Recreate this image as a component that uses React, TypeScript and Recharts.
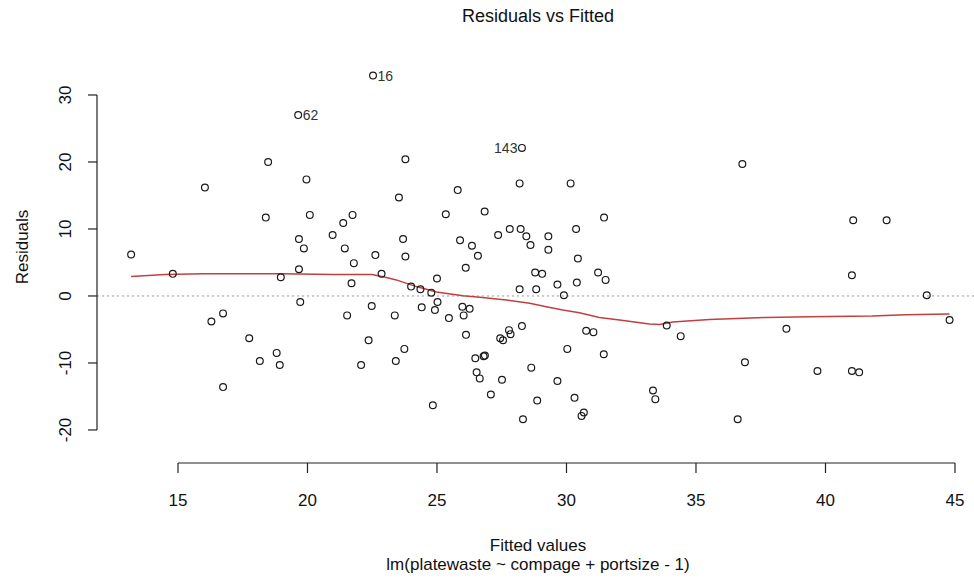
import React from 'react';
import { ComposedChart, XAxis, YAxis, Scatter, Line, ReferenceLine, Customized } from 'recharts';

const fittedValues = [
  13.19, 14.8, 16.04, 16.29, 16.74, 16.74, 17.75, 18.16, 18.39, 18.48, 18.81, 18.93, 18.97,
  19.67, 19.67, 19.72, 19.86, 19.96, 20.09, 20.97, 21.38, 21.44, 21.53, 21.7, 21.74, 21.79,
  22.07, 22.36, 22.48, 22.62, 22.86, 23.37, 23.41, 23.53, 23.69, 23.74, 23.78, 23.78, 24.0,
  24.36, 24.41, 24.78, 24.84, 24.92, 25.0, 25.02, 25.34, 25.46, 25.8, 25.89, 25.98, 26.03,
  26.11, 26.12, 26.26, 26.35, 26.48, 26.53, 26.58, 26.65, 26.8, 26.85, 26.84, 27.08, 27.36,
  27.44, 27.51, 27.55, 27.78, 27.81, 27.84, 28.19, 28.19, 28.23, 28.28, 28.32, 28.45, 28.61,
  28.64, 28.79, 28.83, 28.87, 29.06, 29.3, 29.3, 29.65, 29.65, 29.9, 30.03, 30.16, 30.31,
  30.37, 30.4, 30.44, 30.58, 30.67, 30.76, 31.04, 31.22, 31.44, 31.45, 31.51, 33.34, 33.43,
  33.87, 34.41, 36.61, 36.79, 36.89, 38.49, 39.69, 41.02, 41.02, 41.07, 41.3, 42.36, 43.91,
  44.79,
];
const residuals = [
  6.2, 3.3, 16.2, -3.8, -2.6, -13.6, -6.3, -9.7, 11.7, 20.0, -8.5, -10.3, 2.8,
  8.5, 4.0, -0.9, 7.1, 17.4, 12.1, 9.1, 10.9, 7.1, -2.9, 1.9, 12.1, 4.9,
  -10.3, -6.6, -1.5, 6.1, 3.3, -2.9, -9.7, 14.7, 8.5, -7.9, 20.4, 5.9, 1.4,
  1.0, -1.7, 0.5, -16.3, -2.1, 2.6, -0.9, 12.2, -3.3, 15.8, 8.3, -1.6, -2.9,
  4.2, -5.8, -1.9, 7.5, -9.3, -11.4, 6.0, -12.3, -9.0, -8.9, 12.6, -14.7, 9.1,
  -6.3, -12.5, -6.6, -5.1, 10.0, -5.7, 16.8, 1.0, 10.0, -4.5, -18.4, 8.9, 7.6,
  -10.7, 3.5, 1.0, -15.6, 3.3, 8.9, 6.9, 1.7, -12.7, 0.1, -7.9, 16.8, -15.2,
  10.0, 2.0, 5.6, -17.9, -17.4, -5.2, -5.4, 3.5, -8.7, 11.7, 2.4, -14.1, -15.4,
  -4.4, -6.0, -18.4, 19.7, -9.9, -4.9, -11.2, 3.1, -11.2, 11.3, -11.4, 11.3, 0.1,
  -3.6,
];

const labeledIds = ['16', '62', '143'];
const labeledFitted = [22.53, 19.64, 28.28];
const labeledResiduals = [32.9, 27.0, 22.1];
const labeledSides = ['right', 'right', 'left'];

const smoothX = [13.19, 14.5, 16.0, 19.0, 21.0, 22.5, 23.0, 23.43, 24.2, 24.98, 26.0, 26.65, 27.68, 28.58, 29.22, 29.86, 30.5, 31.27, 32.05, 33.2, 33.6, 34.1, 35.52, 37.7, 39.37, 41.8, 43.1, 44.79];
const smoothY = [2.9, 3.2, 3.3, 3.3, 3.2, 3.2, 2.8, 2.4, 1.4, 0.6, 0.05, -0.2, -0.6, -1.1, -1.6, -2.1, -2.5, -3.2, -3.6, -4.2, -4.25, -3.9, -3.5, -3.2, -3.1, -3.0, -2.8, -2.7];

const xTicks = [15, 20, 25, 30, 35, 40, 45];
const yTicks = [-20, -10, 0, 10, 20, 30];

const X_DOMAIN: [number, number] = [11.873, 45.734];
const Y_DOMAIN: [number, number] = [-24.93, 39.55];

const FONT = '"Liberation Sans", Arial, Helvetica, sans-serif';

const points = fittedValues.map((x, i) => ({ x, y: residuals[i] }));
const labeledPoints = labeledFitted.map((x, i) => ({ x, y: labeledResiduals[i], id: labeledIds[i], side: labeledSides[i] }));
const smoothData = smoothX.map((x, i) => ({ x, y: smoothY[i] }));

const OpenCircle = (props: any) => {
  const { cx, cy } = props;
  if (cx == null || cy == null) return null;
  return <circle cx={cx} cy={cy} r={3.4} fill="none" stroke="#1a1a1a" strokeWidth={1.2} />;
};

const LabeledCircle = (props: any) => {
  const { cx, cy, payload } = props;
  if (cx == null || cy == null) return null;
  const right = payload.side === 'right';
  return (
    <g>
      <circle cx={cx} cy={cy} r={3.4} fill="none" stroke="#1a1a1a" strokeWidth={1.2} />
      <text
        x={right ? cx + 4.5 : cx - 4.5}
        y={cy}
        dominantBaseline="central"
        textAnchor={right ? 'start' : 'end'}
        fontFamily={FONT}
        fontSize={14}
        fill="#333"
      >
        {payload.id}
      </text>
    </g>
  );
};

const XTick = (props: any) => {
  const { x, y, payload } = props;
  return (
    <text x={x} y={y + 25} textAnchor="middle" dominantBaseline="central" fontFamily={FONT} fontSize={17} fill="#111">
      {payload.value}
    </text>
  );
};

const YTick = (props: any) => {
  const { x, y, payload } = props;
  const bx = x - 15;
  return (
    <text x={bx} y={y} textAnchor="middle" transform={`rotate(-90, ${bx}, ${y})`} fontFamily={FONT} fontSize={17} fill="#111">
      {payload.value}
    </text>
  );
};

const Titles = () => (
  <g fontFamily={FONT} fill="#111">
    <text x={538} y={16} textAnchor="middle" dominantBaseline="central" fontSize={18}>Residuals vs Fitted</text>
    <text x={538} y={545} textAnchor="middle" dominantBaseline="central" fontSize={17}>Fitted values</text>
    <text x={538} y={564} textAnchor="middle" dominantBaseline="central" fontSize={17}>lm(platewaste ~ compage + portsize - 1)</text>
    <text x={22} y={247} textAnchor="middle" dominantBaseline="central" fontSize={17} transform="rotate(-90, 22, 247)">Residuals</text>
  </g>
);

export default function App() {
  return (
    <div style={{ position: 'absolute', left: 0, top: 0, width: 974, height: 583, background: '#fff' }}>
      <ComposedChart width={974} height={583} margin={{ top: 31, right: 0, bottom: 0, left: 0 }}>
        <XAxis
          type="number"
          dataKey="x"
          domain={X_DOMAIN}
          ticks={xTicks}
          interval={0}
          allowDataOverflow
          axisLine={false}
          tickLine={{ stroke: '#222', strokeWidth: 1.2 }}
          tickSize={10}
          height={120}
          tick={XTick}
        />
        <YAxis
          type="number"
          dataKey="y"
          domain={Y_DOMAIN}
          ticks={yTicks}
          interval={0}
          allowDataOverflow
          axisLine={false}
          tickLine={{ stroke: '#222', strokeWidth: 1.2 }}
          tickSize={9}
          width={97}
          tick={YTick}
        />
        <ReferenceLine y={0} stroke="#9a9a9a" strokeDasharray="2 3" strokeWidth={1} ifOverflow="visible" />
        <ReferenceLine
          segment={[{ x: xTicks[0], y: Y_DOMAIN[0] }, { x: xTicks[xTicks.length - 1], y: Y_DOMAIN[0] }]}
          stroke="#222"
          strokeWidth={1.2}
          ifOverflow="visible"
        />
        <ReferenceLine
          segment={[{ x: X_DOMAIN[0], y: yTicks[0] }, { x: X_DOMAIN[0], y: yTicks[yTicks.length - 1] }]}
          stroke="#222"
          strokeWidth={1.2}
          ifOverflow="visible"
        />
        <Scatter data={points} dataKey="y" shape={OpenCircle} isAnimationActive={false} />
        <Scatter data={labeledPoints} dataKey="y" shape={LabeledCircle} isAnimationActive={false} />
        <Line data={smoothData} dataKey="y" type="linear" stroke="#c0403f" strokeWidth={1.5} dot={false} activeDot={false} isAnimationActive={false} />
        <Customized component={Titles} />
      </ComposedChart>
    </div>
  );
}
